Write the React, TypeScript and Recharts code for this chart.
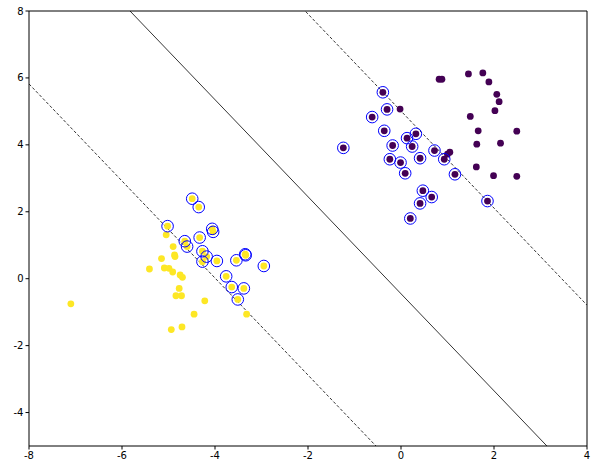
import { ScatterChart, Scatter, XAxis, YAxis, ReferenceLine } from 'recharts'

// class 0 (purple), points without a ring
const purplePoints: [number, number][] = [
  [-0.02, 5.07], [1.0, 3.72], [1.05, 3.78],
  [0.82, 5.96], [0.88, 5.96], [1.45, 6.12], [1.76, 6.15], [1.89, 5.88],
  [2.06, 5.51], [2.11, 5.29], [2.02, 5.02], [1.49, 4.85], [1.66, 4.42],
  [2.49, 4.41], [1.63, 4.02], [2.14, 4.05], [1.62, 3.34], [1.99, 3.08],
  [2.49, 3.06],
]
// class 0 support vectors
const purpleSupport: [number, number][] = [
  [-0.39, 5.57], [-0.3, 5.06], [-0.62, 4.83], [-0.36, 4.42], [0.32, 4.33],
  [0.13, 4.2], [-1.24, 3.91], [-0.18, 3.98], [0.24, 3.95], [0.72, 3.83],
  [0.93, 3.57], [-0.24, 3.57], [-0.01, 3.47], [0.41, 3.6], [0.09, 3.15],
  [1.16, 3.12], [0.47, 2.63], [0.66, 2.44], [0.41, 2.25], [1.86, 2.32],
  [0.2, 1.8],
]
// class 1 (yellow), points without a ring
const yellowPoints: [number, number][] = [
  [-7.1, -0.75], [-5.41, 0.29], [-5.15, 0.6], [-5.05, 1.31], [-4.9, 0.96],
  [-4.87, 0.71], [-4.86, 0.66], [-5.09, 0.32], [-4.99, 0.31], [-4.91, 0.2],
  [-4.75, 0.11], [-4.7, 0.04], [-4.77, -0.29], [-4.84, -0.51], [-4.72, -0.51],
  [-4.22, -0.66], [-4.45, -1.06], [-4.71, -1.44], [-4.94, -1.52], [-3.32, -1.06],
]
// class 1 support vectors
const yellowSupport: [number, number][] = [
  [-4.49, 2.39], [-4.35, 2.14], [-5.02, 1.57], [-4.06, 1.49], [-4.04, 1.4],
  [-4.33, 1.23], [-4.65, 1.12], [-4.6, 0.96], [-4.27, 0.82], [-4.18, 0.66],
  [-4.27, 0.51], [-3.96, 0.53], [-3.54, 0.55], [-3.35, 0.73], [-3.34, 0.7],
  [-2.95, 0.38], [-3.76, 0.07], [-3.64, -0.25], [-3.38, -0.29], [-3.51, -0.62],
]

// decision function lines: y = slope * x + offset
const slope = -1.45
const boundaryOffset = -0.45
const marginOffsets = [-5.78, 5.01]

const xTicks = [-8, -6, -4, -2, 0, 2, 4]
const yTicks = [-4, -2, 0, 2, 4, 6, 8]
const X_DOMAIN: [number, number] = [-8, 4]
const Y_DOMAIN: [number, number] = [-5, 8]

const toObj = (pts: [number, number][]) => pts.map(([x, y]) => ({ x, y }))
const seg = (b: number) => [
  { x: X_DOMAIN[0], y: slope * X_DOMAIN[0] + b },
  { x: X_DOMAIN[1], y: slope * X_DOMAIN[1] + b },
]

const dot = (color: string) => (p: any) => <circle cx={p.cx} cy={p.cy} r={3.4} fill={color} />
const ring = (p: any) => <circle cx={p.cx} cy={p.cy} r={5.8} fill="none" stroke="#0000ff" strokeWidth={1} />

const tickStyle = { fontSize: 10, fill: '#000', fontFamily: 'DejaVu Sans' }

export default function App() {
  return (
    <div style={{ position: 'absolute', left: 0, top: 0, background: '#fff' }}>
      <ScatterChart width={597} height={470} margin={{ top: 11, right: 10, bottom: 0, left: 0 }}>
        <XAxis type="number" dataKey="x" domain={X_DOMAIN} ticks={xTicks} allowDataOverflow
          height={24} stroke="#000" tickSize={3.5} tick={tickStyle} />
        <YAxis type="number" dataKey="y" domain={Y_DOMAIN} ticks={yTicks} allowDataOverflow
          width={29} stroke="#000" tickSize={3.5} tick={tickStyle} />
        {/* top and right spines */}
        <ReferenceLine y={Y_DOMAIN[1]} stroke="#000" strokeWidth={1} ifOverflow="visible" />
        <ReferenceLine x={X_DOMAIN[1]} stroke="#000" strokeWidth={1} ifOverflow="visible" />
        <Scatter data={toObj(purplePoints.concat(purpleSupport))} shape={dot('#440154')} isAnimationActive={false} />
        <Scatter data={toObj(yellowPoints.concat(yellowSupport))} shape={dot('#fde725')} isAnimationActive={false} />
        <ReferenceLine segment={seg(boundaryOffset)} ifOverflow="hidden" stroke="#000" strokeWidth={0.8} />
        {marginOffsets.map((b) => (
          <ReferenceLine key={b} segment={seg(b)} ifOverflow="hidden" stroke="#000" strokeWidth={0.8} strokeDasharray="3 2" />
        ))}
        <Scatter data={toObj(purpleSupport.concat(yellowSupport))} shape={ring} isAnimationActive={false} />
      </ScatterChart>
    </div>
  )
}
